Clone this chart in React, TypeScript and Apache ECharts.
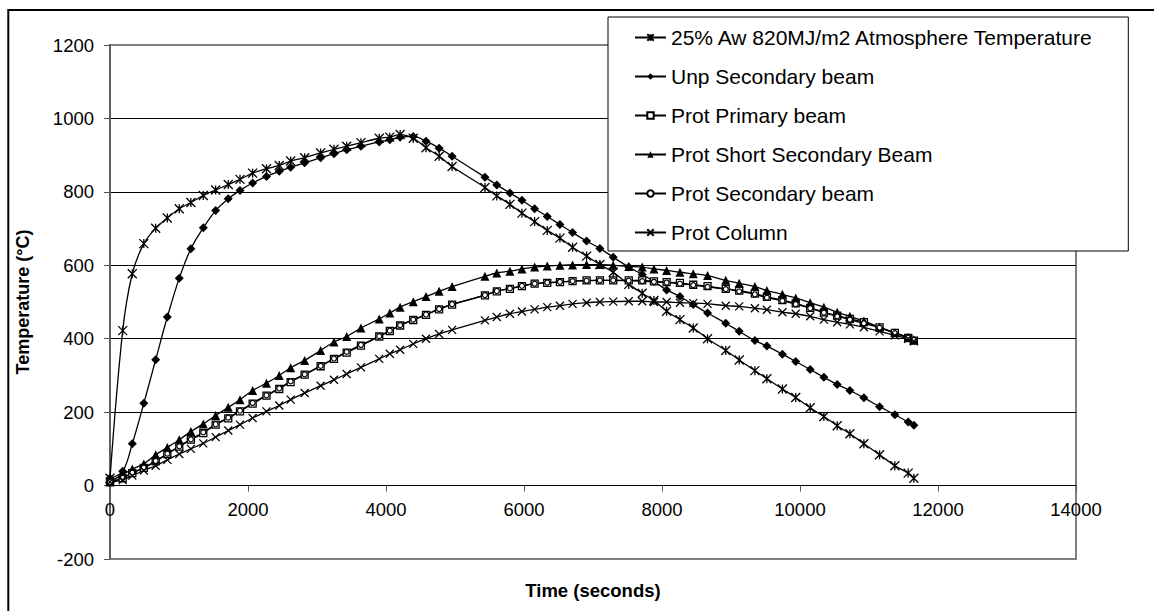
import React, { useEffect, useRef } from "react";
import * as echarts from "echarts";

const times = [0, 184, 323, 490, 662, 831, 1004, 1172, 1352, 1531, 1714, 1884, 2067, 2268, 2453, 2618, 2821, 3053, 3246, 3430, 3637, 3902, 4055, 4205, 4395, 4580, 4770, 4958, 5434, 5606, 5796, 5970, 6154, 6337, 6521, 6704, 6907, 7100, 7293, 7518, 7713, 7883, 8067, 8260, 8453, 8660, 8924, 9119, 9346, 9520, 9745, 9938, 10148, 10346, 10539, 10723, 10926, 11153, 11375, 11568, 11650];

const atmosphere = [20, 422, 577, 659, 701, 729, 754, 771, 790, 805, 820, 834, 851, 863, 872, 884, 893, 906, 916, 924, 934, 946, 949, 956, 946, 920, 897, 869, 812, 789, 766, 742, 719, 695, 674, 649, 625, 602, 581, 548, 524, 504, 475, 452, 429, 400, 368, 342, 313, 291, 263, 240, 212, 188, 163, 141, 114, 84, 54, 34, 20];

const unpSecondary = [20, 39, 114, 224, 343, 459, 565, 645, 702, 749, 781, 804, 824, 842, 856, 867, 879, 893, 904, 915, 924, 936, 942, 949, 951, 938, 919, 897, 840, 819, 797, 777, 754, 733, 711, 689, 666, 646, 622, 595, 575, 556, 533, 515, 493, 470, 442, 420, 395, 380, 358, 338, 316, 295, 275, 259, 239, 215, 193, 173, 164];

const protPrimary = [10, 20, 34, 48, 66, 86, 106, 125, 143, 166, 183, 202, 223, 245, 263, 282, 302, 325, 345, 362, 381, 406, 421, 436, 451, 465, 480, 493, 518, 529, 536, 543, 550, 552, 554, 557, 559, 559, 559, 559, 559, 556, 554, 552, 547, 543, 536, 531, 523, 514, 505, 496, 484, 472, 463, 454, 445, 431, 416, 402, 395];

const protShort = [10, 30, 45, 59, 84, 104, 125, 147, 168, 191, 213, 234, 259, 279, 300, 321, 341, 368, 391, 406, 429, 454, 470, 486, 501, 515, 529, 542, 570, 579, 584, 590, 595, 598, 600, 601, 602, 602, 600, 597, 595, 590, 586, 581, 577, 572, 559, 551, 542, 531, 521, 511, 498, 486, 472, 461, 448, 431, 416, 404, 397];

const protSecondary = [10, 21, 35, 49, 67, 87, 107, 126, 145, 167, 185, 204, 225, 246, 265, 284, 303, 326, 346, 364, 383, 407, 422, 437, 452, 466, 481, 494, 519, 530, 537, 544, 550, 553, 555, 557, 558, 559, 559, 558, 557, 555, 553, 550, 546, 541, 535, 529, 521, 512, 503, 494, 483, 471, 461, 452, 442, 430, 415, 403, 397];

const protColumn = [10, 15, 27, 41, 54, 70, 86, 100, 115, 132, 150, 166, 184, 202, 218, 234, 252, 272, 288, 304, 322, 345, 359, 370, 386, 400, 413, 424, 450, 459, 468, 474, 480, 486, 490, 495, 498, 500, 501, 502, 502, 500, 500, 498, 497, 495, 490, 488, 483, 479, 472, 468, 461, 452, 445, 439, 431, 420, 409, 400, 393];

const seriesNames = [
  "25% Aw 820MJ/m2 Atmosphere Temperature",
  "Unp Secondary beam",
  "Prot Primary beam",
  "Prot Short Secondary Beam",
  "Prot Secondary beam",
  "Prot Column",
];

const xTicks = { min: 0, max: 14000, interval: 2000 };
const yTicks = { min: -200, max: 1200, interval: 200 };

const FONT = '"Liberation Sans", Arial, sans-serif';

const GRID_TOP = 45;
const GRID_BOTTOM = 52;
const CHART_H = 611;

export default function App() {
  const ref = useRef<HTMLDivElement>(null);
  useEffect(() => {
    if (!ref.current) return;
    const chart = echarts.init(ref.current, null, { renderer: "svg" });
    const pair = (arr: number[]) => times.map((t, i) => [t, arr[i]]);
    const asterisk = "path://M0,0L10,10M10,0L0,10M5,0L5,10";
    const cross = "path://M0,0L10,10M10,0L0,10";
    const base = (name: string, data: number[], symbol: string, size: number, fill: string, bw: number) => ({
      name,
      type: "line",
      data: pair(data),
      smooth: 0.35,
      symbol,
      symbolSize: size,
      showAllSymbol: true,
      lineStyle: { color: "#000", width: 1.3 },
      itemStyle: { color: fill, borderColor: "#000", borderWidth: bw },
      emphasis: { disabled: true },
    });
    const plain = (v: number) => String(v);
    // distance of the zero line above the bottom of the plot, so the x axis sits on y = 0
    const plotH = CHART_H - GRID_TOP - GRID_BOTTOM;
    const zeroOffset = ((0 - yTicks.min) / (yTicks.max - yTicks.min)) * plotH;
    const option: any = {
      animation: false,
      backgroundColor: "#fff",
      textStyle: { fontFamily: FONT },
      grid: {
        left: 110,
        top: GRID_TOP,
        right: 78,
        bottom: GRID_BOTTOM,
        show: true,
        borderColor: "#808080",
        borderWidth: 2,
        backgroundColor: "#fff",
      },
      legend: {
        orient: "vertical",
        left: 608,
        top: 17,
        padding: [10, 34, 8, 26],
        itemWidth: 31,
        itemHeight: 8,
        itemGap: 18,
        backgroundColor: "#fff",
        borderColor: "#000",
        borderWidth: 1,
        textStyle: { fontFamily: FONT, fontSize: 21, color: "#000", lineHeight: 21 },
        data: seriesNames,
      },
      xAxis: {
        type: "value",
        position: "bottom",
        offset: -zeroOffset,
        min: xTicks.min,
        max: xTicks.max,
        interval: xTicks.interval,
        axisLine: { show: true, onZero: false, lineStyle: { color: "#000", width: 1 } },
        axisTick: { show: true, length: 6, lineStyle: { color: "#555" } },
        axisLabel: { fontFamily: FONT, fontSize: 18.5, color: "#000", margin: 14, formatter: plain },
        splitLine: { show: false },
      },
      yAxis: {
        type: "value",
        min: yTicks.min,
        max: yTicks.max,
        interval: yTicks.interval,
        name: "Temperature (°C)",
        nameLocation: "middle",
        nameGap: 78,
        nameRotate: 90,
        nameTextStyle: { fontFamily: FONT, fontSize: 18, fontWeight: "bold", color: "#000" },
        axisLine: { show: true, onZero: false, lineStyle: { color: "#606060", width: 2 } },
        axisTick: { show: true, length: 6, lineStyle: { color: "#555" } },
        axisLabel: { fontFamily: FONT, fontSize: 18.5, color: "#000", margin: 16, formatter: plain },
        splitLine: {
          show: true,
          lineStyle: {
            color: ["#808080", "#000", "#000", "#000", "#000", "#000", "#000", "#808080"],
            width: 1,
          },
        },
      },
      graphic: [
        {
          type: "rect",
          shape: { x: 8.3, y: 10, width: 1200, height: 700 },
          style: { fill: "none", stroke: "#000", lineWidth: 2 },
          silent: true,
          z: 100,
        },
        {
          type: "text",
          x: 593,
          y: 590,
          style: {
            text: "Time (seconds)",
            font: `bold 18.5px ${FONT}`,
            fill: "#000",
            align: "center",
            verticalAlign: "middle",
            textAlign: "center",
            textVerticalAlign: "middle",
          },
        },
      ],
      series: [
        base(seriesNames[0], atmosphere, asterisk, 9, "#000", 1.3),
        base(seriesNames[1], unpSecondary, "diamond", 9, "#000", 0),
        base(seriesNames[2], protPrimary, "rect", 7, "#fff", 1.3),
        base(seriesNames[3], protShort, "triangle", 9, "#000", 0),
        base(seriesNames[4], protSecondary, "circle", 5, "#fff", 1.2),
        base(seriesNames[5], protColumn, cross, 8, "#000", 1.3),
      ],
    };
    chart.setOption(option);
    return () => chart.dispose();
  }, []);
  return (
    <div
      ref={ref}
      style={{ position: "fixed", left: 0, top: 0, width: 1154, height: 611, background: "#fff" }}
    />
  );
}
